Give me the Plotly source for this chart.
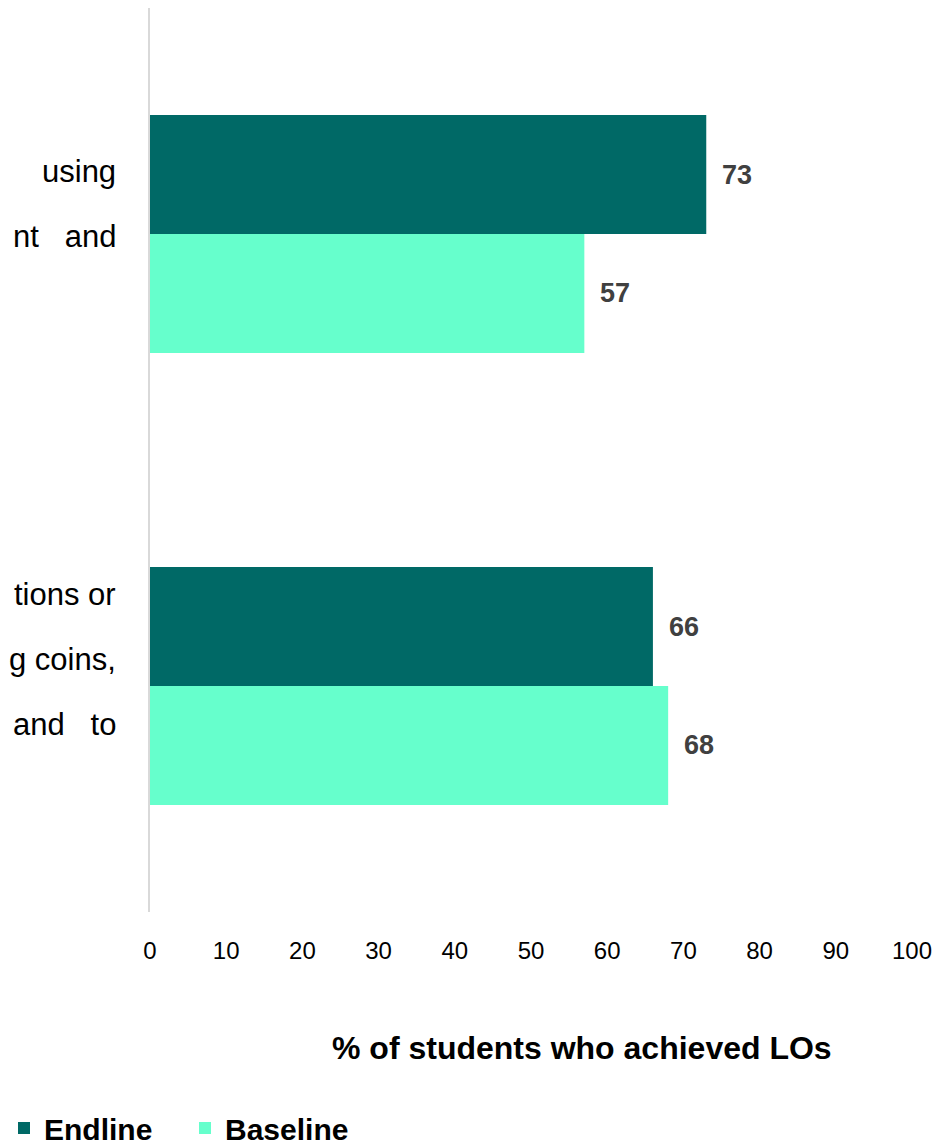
import plotly.graph_objects as go

categories = ["LO1", "LO2"]
label_lines = [["using", "nt\u00a0\u00a0\u00a0and"],
               ["tions or", "g coins,", "and\u00a0\u00a0\u00a0to"]]
endline = [73, 66]
baseline = [57, 68]
x_ticks = [0, 10, 20, 30, 40, 50, 60, 70, 80, 90, 100]

C_END = "#006966"
C_BASE = "#66FFCC"
FONT = "Liberation Sans, Arial, Helvetica, sans-serif"

W, H = 940, 1146
ML, MR, MT, MB = 150, 28, 8, 234
PW, PH = W - ML - MR, H - MT - MB


def px_to_paper(px, py):
    return (px - ML) / PW, (H - MB - py) / PH


cat_order = list(reversed(categories))  # bottom -> top

fig = go.Figure()
fig.add_trace(go.Bar(name="Baseline", y=categories, x=baseline, orientation="h",
                     marker=dict(color=C_BASE, line=dict(width=0))))
fig.add_trace(go.Bar(name="Endline", y=categories, x=endline, orientation="h",
                     marker=dict(color=C_END, line=dict(width=0))))

annotations = []
for ci, cat in enumerate(categories):
    pos = cat_order.index(cat)
    for val, off in ((endline[ci], 0.1316), (baseline[ci], -0.1316)):
        annotations.append(dict(
            x=val, y=pos + off, xref="x", yref="y", text=f"<b>{val}</b>",
            showarrow=False, xanchor="left", xshift=14,
            font=dict(family=FONT, size=27, color="#404040")))

# category label fragments (right aligned, justified text)
line_pos = {0: [172, 237], 1: [594, 659, 724]}
for ci, lines in enumerate(label_lines):
    for li, t in enumerate(lines):
        xp, yp = px_to_paper(118, line_pos[ci][li])
        annotations.append(dict(
            x=xp, y=yp, xref="paper", yref="paper",
            text=t, showarrow=False, xanchor="right", yanchor="middle",
            font=dict(family=FONT, size=31, color="#000000")))

xp, yp = px_to_paper(582, 1048)
annotations.append(dict(
    x=xp, y=yp, xref="paper", yref="paper",
    text="<b>% of students who achieved LOs</b>", showarrow=False,
    xanchor="center", yanchor="middle",
    font=dict(family=FONT, size=32, color="#000000")))

fig.update_layout(
    width=W, height=H,
    margin=dict(l=ML, r=MR, t=MT, b=MB),
    paper_bgcolor="white", plot_bgcolor="white",
    barmode="group", bargap=0.473, bargroupgap=0,
    font=dict(family=FONT, color="#000000"),
    xaxis=dict(range=[0, 100], tickvals=x_ticks, showgrid=False, zeroline=False,
               showline=False, ticks="", ticklabelstandoff=22,
               tickfont=dict(family=FONT, size=24, color="#000000"),
               fixedrange=True),
    yaxis=dict(type="category", categoryorder="array",
               categoryarray=cat_order,
               showticklabels=False, showgrid=False, zeroline=False,
               showline=True, linecolor="#d9d9d9", linewidth=2, ticks=""),
    showlegend=True,
    legend=dict(orientation="h", traceorder="reversed", x=4 / W, y=1 - 1128 / H,
                xref="container", yref="container", xanchor="left", yanchor="middle",
                font=dict(family=FONT, size=30, color="#000000", weight="bold"),
                itemsizing="constant", entrywidth=136, tracegroupgap=0),
    annotations=annotations,
)

fig.write_html("out.html", config={"displayModeBar": False},
               post_script="document.body.style.margin='0';document.body.style.padding='0';")
